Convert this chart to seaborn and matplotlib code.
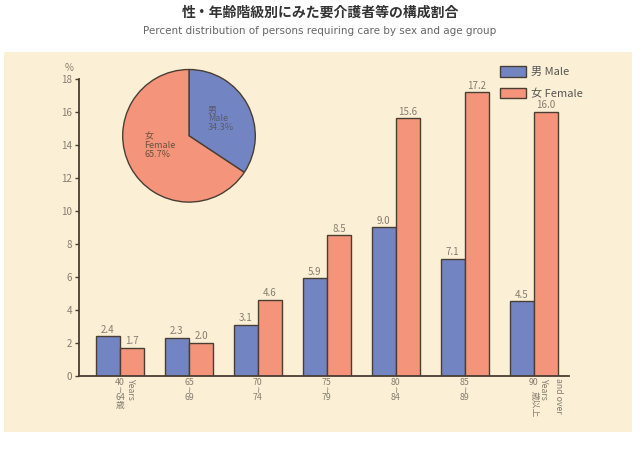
import matplotlib
matplotlib.use("Agg")
import matplotlib.pyplot as plt
import seaborn as sns
import pandas as pd
from matplotlib.patches import Patch

# ---- data ----
age_groups = ["40-64", "65-69", "70-74", "75-79", "80-84", "85-89", "90+"]
male = [2.4, 2.3, 3.1, 5.9, 9.0, 7.1, 4.5]
female = [1.7, 2.0, 4.6, 8.5, 15.6, 17.2, 16.0]
pie_labels = ["男\nMale\n34.3%", "女\nFemale\n65.7%"]
pie_values = [34.3, 65.7]
series_names = ["男 Male", "女 Female"]
y_ticks = [0, 2, 4, 6, 8, 10, 12, 14, 16, 18]
tick_labels = ["40\n≀\n64\n歳", "65\n≀\n69", "70\n≀\n74", "75\n≀\n79",
               "80\n≀\n84", "85\n≀\n89", "90"]

sns.set_theme(style="white")
plt.rcParams["font.family"] = ["Noto Sans CJK JP", "DejaVu Sans"]

BLUE = "#7384c2"
SALMON = "#f4947a"
EDGE = "#4a3e34"
BG = "#fbf0d5"
TXT = "#857c70"

fig = plt.figure(figsize=(6.4, 4.49), dpi=100)
fig.patch.set_facecolor("white")
W, H = 640, 449
bg = fig.add_axes([4 / W, 1 - 432 / H, 628 / W, 380 / H], zorder=-10)
bg.set_facecolor(BG)
bg.set_xticks([])
bg.set_yticks([])
for s in bg.spines.values():
    s.set_visible(False)

fig.text(0.5, 1 - 13 / H, "性・年齢階級別にみた要介護者等の構成割合",
         ha="center", va="center", fontsize=10, color="#333333", fontweight="bold")
fig.text(0.5, 1 - 31 / H,
         "Percent distribution of persons requiring care by sex and age group",
         ha="center", va="center", fontsize=7.5, color="#666666",
         family=["Liberation Sans Narrow", "DejaVu Sans"])

ax = fig.add_axes([79 / W, 1 - 375.7 / H, 490 / W, 297 / H])
ax.set_facecolor("none")

df = pd.DataFrame({
    "age": age_groups * 2,
    "value": male + female,
    "sex": [series_names[0]] * len(male) + [series_names[1]] * len(female),
})
sns.barplot(data=df, x="age", y="value", hue="sex", palette=[BLUE, SALMON],
            edgecolor=EDGE, linewidth=1, width=0.7, saturation=1,
            ax=ax, legend=False)

ax.set_xlim(-0.594, 6.51)
ax.set_ylim(0, 18)
ax.set_yticks(y_ticks)
ax.set_yticklabels([str(t) for t in y_ticks], fontsize=7, color=TXT)
ax.tick_params(axis="y", direction="out", length=3, width=1, color=EDGE, pad=2, left=True)
ax.set_xticks(range(len(age_groups)))
ax.set_xticklabels([])
ax.tick_params(axis="x", length=0)
ax.set_xlabel("")
ax.set_ylabel("")
for s in ["top", "right"]:
    ax.spines[s].set_visible(False)
for s in ["left", "bottom"]:
    ax.spines[s].set_color(EDGE)
    ax.spines[s].set_linewidth(1.3)
ax.text(-0.02, 1.036, "%", transform=ax.transAxes, ha="center", va="center",
        fontsize=7, color=TXT)

# value labels
for cont in ax.containers:
    ax.bar_label(cont, fmt="%.1f", fontsize=7, color=TXT, padding=1)

# x tick labels
lab_kw = dict(xycoords=("data", "axes fraction"), textcoords="offset points",
              fontsize=6.3, color=TXT)
for i, lab in enumerate(tick_labels):
    ax.annotate(lab, (i, 0), xytext=(0, -2), ha="center", va="top",
                linespacing=0.78, **lab_kw)
ax.annotate("Years", (0, 0), xytext=(7.5, -1.5), rotation=-90,
            ha="center", va="top", **lab_kw)
ax.annotate("歳以上", (6, 0), xytext=(0, -11), rotation=-90,
            ha="center", va="top", **lab_kw)
ax.annotate("Years", (6, 0), xytext=(7, -1.5), rotation=-90,
            ha="center", va="top", **lab_kw)
ax.annotate("and over", (6, 0), xytext=(17.5, -1.5), rotation=-90,
            ha="center", va="top", **lab_kw)

# legend
handles = [Patch(facecolor=BLUE, edgecolor=EDGE, linewidth=1),
           Patch(facecolor=SALMON, edgecolor=EDGE, linewidth=1)]
leg = fig.legend(handles, series_names, loc="upper left",
                 bbox_to_anchor=(490 / W, 1 - 56 / H), frameon=False,
                 fontsize=8, handlelength=2.3, handleheight=1.1,
                 labelspacing=0.95, handletextpad=0.5)
for t in leg.get_texts():
    t.set_color("#555555")

# pie
pax = fig.add_axes([(189 - 67.3) / W, 1 - (135.8 + 67.3) / H, 134.6 / W, 134.6 / H])
wedges, _ = pax.pie(pie_values, colors=[BLUE, SALMON], startangle=90,
                    counterclock=False, radius=0.985,
                    wedgeprops=dict(edgecolor=EDGE, linewidth=1))
pax.set_xlim(-1, 1)
pax.set_ylim(-1, 1)
pax.set_aspect("equal")
pax.text(0.28, 0.45, pie_labels[0], ha="left", va="top", fontsize=6.5,
         color="#5a5a6a", linespacing=0.95)
pax.text(-0.66, 0.05, pie_labels[1], ha="left", va="top", fontsize=6.5,
         color="#6a5040", linespacing=0.95)

fig.savefig("out.png", dpi=100, facecolor="white")
